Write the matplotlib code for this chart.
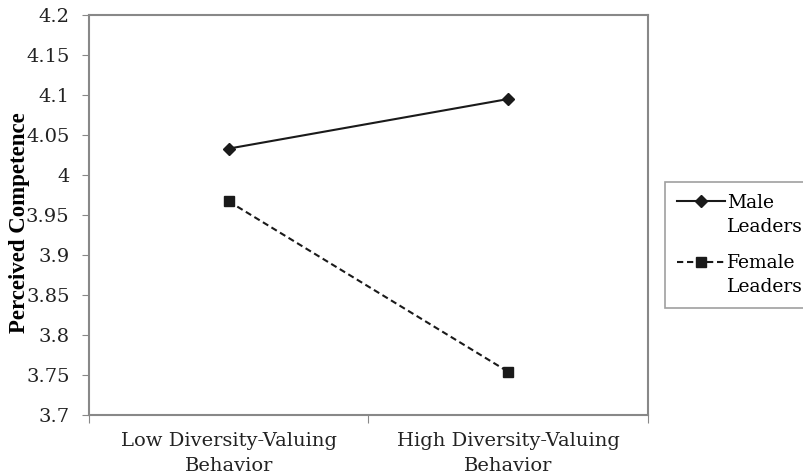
import matplotlib.pyplot as plt
from matplotlib.legend_handler import HandlerLine2D

# data
categories = ['Low Diversity-Valuing\nBehavior', 'High Diversity-Valuing\nBehavior']
male_leaders = [4.033, 4.095]
female_leaders = [3.967, 3.754]
y_ticks = [3.7, 3.75, 3.8, 3.85, 3.9, 3.95, 4.0, 4.05, 4.1, 4.15, 4.2]
y_tick_labels = ['3.7', '3.75', '3.8', '3.85', '3.9', '3.95', '4', '4.05', '4.1', '4.15', '4.2']

plt.rcParams['font.family'] = ['DejaVu Serif']


# legend handle sitting next to the first line of a two-line label
class TopLineHandler(HandlerLine2D):
    def create_artists(self, legend, orig_handle, xdescent, ydescent,
                       width, height, fontsize, trans):
        return super().create_artists(legend, orig_handle, xdescent,
                                      ydescent - 1.5 * fontsize, width, height,
                                      fontsize, trans)


fig = plt.figure(figsize=(8.04, 4.76), dpi=100)
# axes box: x 89..648, y 15..415 px
ax = fig.add_axes([89 / 804, 1 - 415 / 476, (648 - 89) / 804, 400 / 476])

x_pos = [0.5, 1.5]
male_line, = ax.plot(x_pos, male_leaders, color='#1a1a1a', linewidth=1.5, marker='D',
                     markersize=6, label='Male\nLeaders')
female_line, = ax.plot(x_pos, female_leaders, color='#1a1a1a', linewidth=1.5,
                       linestyle=(0, (3, 1.8)), marker='s', markersize=7,
                       label='Female\nLeaders')

ax.set_xlim(0, 2)
ax.set_ylim(3.7, 4.2)
ax.set_yticks(y_ticks)
ax.set_yticklabels(y_tick_labels, fontsize=14, color='#222222')

# major ticks at category boundaries, labels centred on categories
ax.set_xticks([0, 1, 2])
ax.set_xticklabels(['', '', ''])
ax.set_xticks(x_pos, minor=True)
ax.set_xticklabels(categories, minor=True, fontsize=14, color='#222222')
for lbl in ax.get_xticklabels(minor=True):
    lbl.set_linespacing(1.5)
ax.tick_params(axis='x', which='minor', length=0, pad=12)
ax.tick_params(axis='x', which='major', length=6, color='#888888', direction='out')
ax.tick_params(axis='y', length=5, color='#888888', pad=9)

for sp in ax.spines.values():
    sp.set_color('#888888')
    sp.set_linewidth(1.5)

ax.set_ylabel('Perceived Competence', fontsize=16.5, fontweight='bold',
              family='Liberation Serif')
ax.yaxis.set_label_coords(-0.106, 0.48)

leg = fig.legend(handles=[male_line, female_line],
                 handler_map={male_line: TopLineHandler(), female_line: TopLineHandler()},
                 loc='upper left', bbox_to_anchor=(665 / 804, 1 - 182 / 476),
                 fontsize=13.5, frameon=True, fancybox=False, handlelength=2.6,
                 handletextpad=0.1, borderpad=0.62, labelspacing=1.0,
                 borderaxespad=0)
leg.get_frame().set_edgecolor('#888888')
leg.get_frame().set_linewidth(1.2)
for t in leg.get_texts():
    t.set_linespacing(1.42)

fig.savefig('out.png', dpi=100)
